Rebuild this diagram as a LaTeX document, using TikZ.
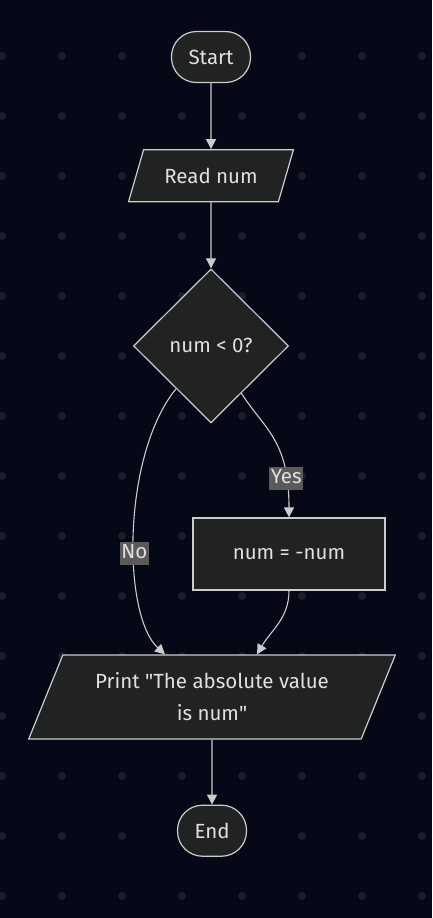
\documentclass[tikz,border=0pt]{standalone}
\usepackage{fontspec}
\setmainfont{Fira Sans}
\usetikzlibrary{shapes.geometric,arrows.meta}
\definecolor{bgc}{HTML}{050816}
\definecolor{dotc}{HTML}{1C1E2C}
\definecolor{boxfill}{HTML}{212222}
\definecolor{edgec}{HTML}{CCCCCC}
\definecolor{textc}{HTML}{E0E0E0}
\definecolor{lblfill}{HTML}{5A5A5A}

\begin{document}
\begin{tikzpicture}[x=1pt,y=1pt,
  every node/.style={text=textc,font=\fontsize{20.5}{32}\selectfont},
  shape box/.style={draw=edgec,fill=boxfill,line width=1.2pt},
  terminal/.style={shape box,rectangle,rounded corners=25pt,minimum height=51pt},
  io/.style={shape box,trapezium,trapezium left angle=63.4,trapezium right angle=116.6,trapezium stretches=true},
  decision/.style={shape box,diamond,minimum width=155pt,minimum height=154pt},
  process/.style={shape box,rectangle,minimum width=192pt,minimum height=72pt},
  flow/.style={draw=edgec,line width=1.1pt,-{Triangle[length=10pt,width=10pt]}},
  edgelabel/.style={fill=lblfill,inner sep=1.5pt,text height=15pt,text depth=5pt}]
\useasboundingbox[fill=bgc] (0,0) rectangle (432,-918);
\foreach \i in {0,...,7}
  \foreach \j in {0,...,14}
    \fill[dotc] (2+60*\i,-56-60*\j) circle (4pt);

\node [terminal,minimum width=79pt] (start) at (211,-57) {Start};
\node [io,below=66pt,at=(start.south),minimum width=165pt,minimum height=52pt] (read) {Read num};
\node [decision,below=66pt,at=(read.south)] (check) {num < 0?};
\node [process] (negate) at (289,-554) {num = -num};
\node [io,minimum width=368pt,minimum height=84pt,align=center] (print) at (212,-697) {Print \textquotedbl The absolute value\\is num\textquotedbl};
\node [terminal,minimum width=69pt,below=65pt,at=(print.south)] (finish) {End};

\draw [flow] (start) -- (read);
\draw [flow] (read) -- (check);
\draw [flow] (check) .. controls (265,-430) and (289,-440) .. node[edgelabel,pos=0.8] {Yes} (negate);
\draw [flow] (check) .. controls (122,-455) and (122,-615) .. node[edgelabel,pos=0.57] {No} ([xshift=-47pt]print.north);
\draw [flow] (negate) to[out=-90,in=60] ([xshift=45pt]print.north);
\draw [flow] (print) -- (finish);
\end{tikzpicture}
\end{document}
